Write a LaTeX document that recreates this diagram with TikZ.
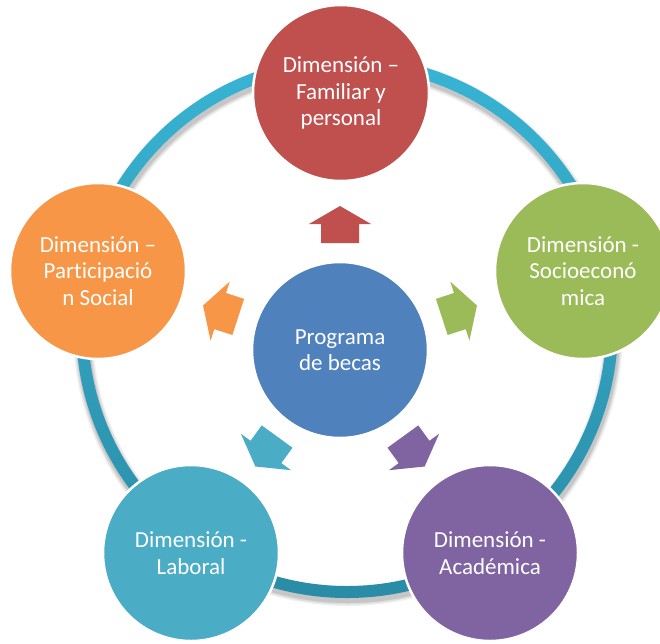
\documentclass[tikz,border=0pt]{standalone}
\usepackage{fontspec}
\setmainfont{Carlito}[Ligatures={NoCommon}]
\definecolor{cblue}{HTML}{4F81BD}
\definecolor{cred}{HTML}{C0504D}
\definecolor{cgreen}{HTML}{9BBB59}
\definecolor{cpurple}{HTML}{8064A2}
\definecolor{cteal}{HTML}{4BACC6}
\definecolor{corange}{HTML}{F79646}
\definecolor{ringtop}{HTML}{38B4D4}
\definecolor{ringbot}{HTML}{2A8CA6}
\begin{document}
\begin{tikzpicture}[x=1pt,y=-1pt,
  dim/.style={circle, minimum size=176pt, inner sep=0pt, draw=white, line width=2.5pt,
    fill=#1, text=white, align=center, font=\fontsize{23}{26.5}\selectfont},
  blockarrow/.style={fill=#1}]
\useasboundingbox (0,0) rectangle (660,643);
\clip (0,0) rectangle (660,643);
\fill[white] (0,0) rectangle (660,643);
% ring shadow
\foreach \d/\op in {0/0.10,1.5/0.08,3/0.06}
  \fill[black, opacity=\op, even odd rule]
    (348,331) circle (272pt+\d pt) (348,331) circle (258pt-\d pt);
% ring
\shade[even odd rule, top color=ringtop, bottom color=ringbot]
  (347,327) circle (271pt) (347,327) circle (259pt);
% circles
\node[dim=cblue] (c) at (340,350) {Programa\\de becas};
\node[dim=cred] (fam) at (341,93) {Dimensión –\\Familiar y\\personal};
\node[dim=cgreen] (soc) at (583,271) {Dimensión -\\Socioeconó\\mica};
\node[dim=cpurple] (aca) at (490,553) {Dimensión -\\Académica};
\node[dim=cteal] (lab) at (191,553) {Dimensión -\\Laboral};
\node[dim=corange] (par) at (98,271) {Dimensión –\\Participació\\n Social};
% block arrows
\foreach \a/\col in {0/cred,-72/cgreen,-144/cpurple,144/cteal,72/corange}
  \fill[blockarrow=\col, shift={(c.center)}, rotate=\a]
    (-19,-107) -- (19,-107) -- (19,-126) -- (31,-126) -- (0,-144)
    -- (-31,-126) -- (-19,-126) -- cycle;
\end{tikzpicture}
\end{document}
